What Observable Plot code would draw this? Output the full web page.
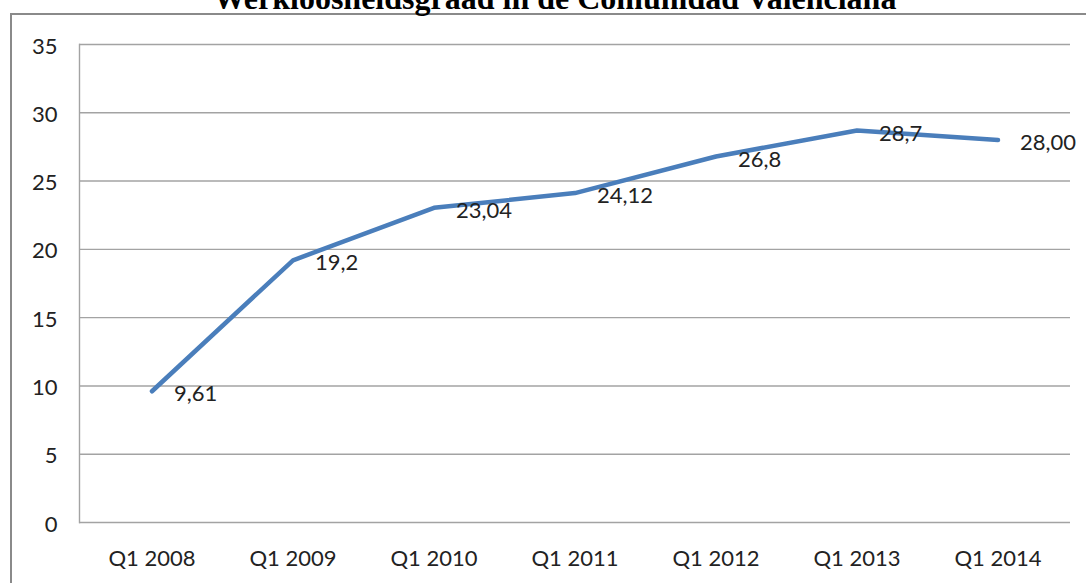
<!DOCTYPE html>
<html>
<head>
<meta charset="utf-8">
<script src="https://cdn.jsdelivr.net/npm/d3@7"></script>
<script src="https://cdn.jsdelivr.net/npm/@observablehq/plot@0.6"></script>
<style>
  html, body { margin: 0; padding: 0; background: #fff; overflow: hidden; }
  #wrap { position: relative; width: 1086px; height: 583px; overflow: hidden; }
  #frame { position: absolute; left: 10px; top: 13px; width: 1200px; height: 700px; border: 2px solid #8a8a8a; box-sizing: border-box; }
  #title { position: absolute; left: 555px; top: -17px; transform: translateX(-50%); white-space: nowrap;
           font-family: "Liberation Serif", "Times New Roman", serif; font-weight: bold; font-size: 32px; line-height: 31px; color: #000; }
  #chart { position: absolute; left: 0; top: 0; }
</style>
</head>
<body>
<div id="wrap">
  <div id="frame"></div>
  <div id="chart"></div>
  <div id="title">Werkloosheidsgraad in de Comunidad Valenciana</div>
</div>
<script>
const quarters = ["Q1 2008", "Q1 2009", "Q1 2010", "Q1 2011", "Q1 2012", "Q1 2013", "Q1 2014"];
const rates = [9.61, 19.2, 23.04, 24.12, 26.8, 28.7, 28.00];
const rateLabels = ["9,61", "19,2", "23,04", "24,12", "26,8", "28,7", "28,00"];
const yTicks = [0, 5, 10, 15, 20, 25, 30, 35];

const data = quarters.map((q, i) => ({q, v: rates[i], label: rateLabels[i]}));
const font = "Lato, 'Open Sans', sans-serif";

const chart = Plot.plot({
  width: 1086,
  height: 583,
  marginLeft: 79,
  marginRight: 16,
  marginTop: 44,
  marginBottom: 61,
  style: {fontFamily: font, fontSize: "22px", color: "#222", background: "transparent"},
  x: {type: "band", domain: quarters, padding: 0, label: null},
  y: {domain: [0, 35], label: null},
  marks: [
    Plot.ruleY(yTicks, {stroke: "#a3a3a3", strokeWidth: 1.4}),
    Plot.frame({anchor: "left", stroke: "#a3a3a3", strokeWidth: 1.4}),
    Plot.axisY(yTicks, {tickSize: 0, tickPadding: 22, dy: 2, fontSize: 22, fill: "#222", label: null}),
    Plot.axisX({tickSize: 0, tickPadding: 28, fontSize: 22, fill: "#222", label: null}),
    Plot.line(data, {x: "q", y: "v", stroke: "#4a7ebb", strokeWidth: 4.5, strokeLinejoin: "round", strokeLinecap: "round"}),
    Plot.text(data, {x: "q", y: "v", text: "label", textAnchor: "start", dx: 22, dy: 3, fontSize: 22, fill: "#222"})
  ]
});
document.getElementById("chart").appendChild(chart);
</script>
</body>
</html>
